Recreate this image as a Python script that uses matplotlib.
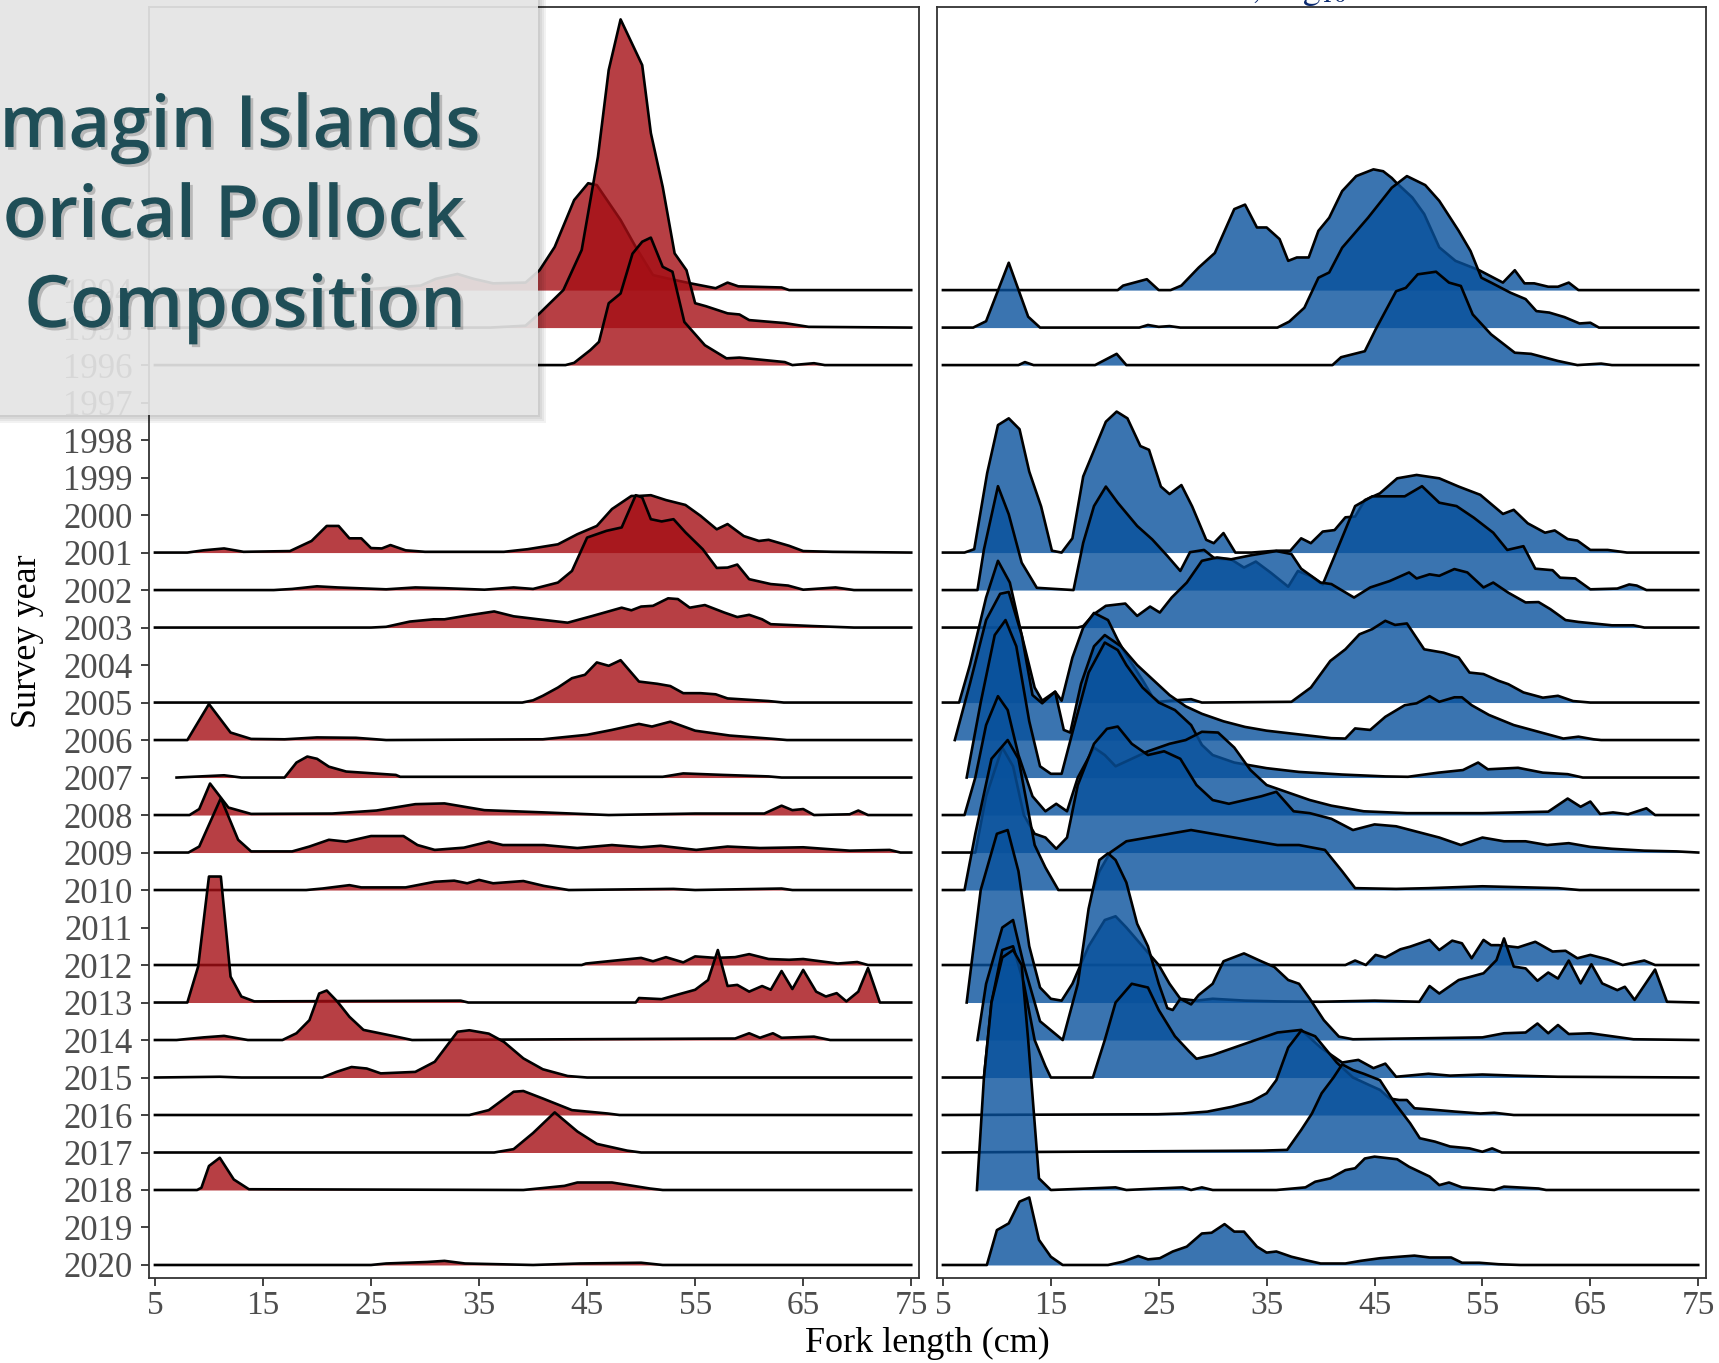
import matplotlib
matplotlib.use("Agg")
import matplotlib.pyplot as plt
import matplotlib.patheffects as pe
from matplotlib.patches import Rectangle
import numpy as np

plt.rcParams["mathtext.fontset"] = "stix"

# survey years on the y axis (top to bottom)
years = list(range(1994, 2021))
x_ticks = [5, 15, 25, 35, 45, 55, 65, 75]

# (fork length cm, ridge height in row units)
red_curves = {
    1994: [(5, 0), (20, 0), (25, 0.03), (29.6, 0.12), (31, 0.3), (33, 0.43), (34.5, 0.3), (36.3, 0.18),
           (39.3, 0.2), (40.6, 0.53), (42, 1.15), (43.8, 2.4), (45.1, 2.85), (45.9, 2.8), (48.1, 1.87),
           (49.5, 1.15), (51.1, 0.4), (52.3, 0.32), (54.4, 0.19), (56.9, 0.05), (58, 0.2), (59, 0.1),
           (63, 0.07), (63.7, 0), (75, 0)],
    1995: [(5, 0), (36, 0), (39.3, 0.05), (40.6, 0.38), (42.8, 1.0), (44.5, 2.07), (46, 4.55), (47, 6.87),
           (48.1, 8.22), (50.1, 7.0), (50.9, 5.19), (52, 3.75), (53.1, 1.98), (54.2, 1.53), (55, 0.65),
           (56, 0.57), (58, 0.38), (59.1, 0.35), (60, 0.2), (63.3, 0.12), (65.5, 0.02), (75, 0)],
    1996: [(5, 0), (43, 0), (43.8, 0.06), (45.3, 0.4), (46.1, 0.62), (47, 1.65), (48.1, 1.91), (49.2, 2.97),
           (50.1, 3.29), (50.9, 3.4), (52, 2.62), (52.9, 2.49), (54, 1.15), (55.9, 0.53), (57.9, 0.18),
           (59.1, 0.2), (63.3, 0.08), (64, 0), (66, 0.05), (67, 0), (75, 0)],
    2001: [(5, 0), (8, 0), (9.5, 0.06), (11.4, 0.11), (13.2, 0.02), (17.5, 0.04), (19.5, 0.31), (20.9, 0.71),
           (22, 0.71), (23, 0.38), (24.1, 0.38), (25, 0.12), (26, 0.11), (26.8, 0.2), (28.2, 0.06), (30, 0.02),
           (37.3, 0.02), (39.5, 0.09), (42.3, 0.22), (44.1, 0.49), (45.9, 0.71), (47.3, 1.16), (49.1, 1.51),
           (49.8, 1.51), (50.9, 1.53), (52.3, 1.4), (54.1, 1.27), (55.5, 0.98), (57, 0.62), (58, 0.76),
           (59.5, 0.44), (60.9, 0.31), (61.8, 0.34), (63.7, 0.18), (65, 0.04), (67.7, 0.02), (75, 0)],
    2002: [(5, 0), (16, 0), (17.7, 0.03), (20, 0.1), (21.9, 0.07), (26.4, 0.02), (29.1, 0.07), (31.8, 0.05),
           (35.5, 0.01), (38.2, 0.07), (40, 0.03), (42.3, 0.2), (43.6, 0.51), (45, 1.4), (46.8, 1.58),
           (48.2, 1.67), (49.5, 2.53), (50.1, 2.47), (50.9, 1.89), (51.9, 1.83), (53, 1.89), (54.1, 1.54),
           (55.7, 1.09), (57, 0.59), (58, 0.6), (58.9, 0.68), (60, 0.29), (62, 0.16), (63.6, 0.12), (65, 0.01),
           (68, 0.07), (69.7, 0), (75, 0)],
    2003: [(5, 0), (25, 0), (26.4, 0.02), (28.6, 0.16), (30.8, 0.22), (31.8, 0.22), (34.1, 0.33), (36.4, 0.43),
           (38.2, 0.3), (40.5, 0.22), (43.2, 0.13), (45.5, 0.31), (48.2, 0.53), (49.1, 0.46), (50, 0.56),
           (51.1, 0.58), (52.5, 0.78), (53.4, 0.76), (54.5, 0.53), (55.9, 0.6), (57.7, 0.4), (58.9, 0.28),
           (60, 0.34), (61.2, 0.22), (62, 0.09), (65.9, 0.04), (69.7, 0), (75, 0)],
    2005: [(5, 0), (39, 0), (40, 0.06), (40.9, 0.18), (42.3, 0.4), (43.6, 0.65), (44.8, 0.74), (45.9, 1.07),
           (47, 0.98), (48.1, 1.13), (49.8, 0.56), (51.5, 0.5), (52.7, 0.44), (53.9, 0.25), (55.5, 0.25),
           (56.9, 0.22), (58, 0.11), (61.8, 0.04), (63.2, 0), (75, 0)],
    2006: [(5, 0), (8, 0), (10, 0.96), (12, 0.2), (13.9, 0.03), (17, 0.02), (20, 0.07), (23.6, 0.06),
           (26.4, 0), (40.9, 0.02), (45, 0.14), (47.3, 0.27), (49.8, 0.43), (51, 0.36), (52.7, 0.49),
           (55, 0.25), (58.2, 0.12), (62.3, 0.03), (63.5, 0), (75, 0)],
    2007: [(7, 0), (11.4, 0.06), (13, 0), (17, 0), (18.1, 0.4), (19.1, 0.56), (20, 0.5), (21.1, 0.29),
           (22.7, 0.16), (27.3, 0.07), (27.7, 0.02), (52, 0.02), (53.9, 0.11), (57.6, 0.07), (61.8, 0.03),
           (63, 0), (75, 0)],
    2008: [(5, 0), (8.2, 0), (9.1, 0.16), (10.1, 0.84), (11.8, 0.2), (13.9, 0.03), (21.4, 0.04), (25.5, 0.12),
           (29.1, 0.29), (31.8, 0.31), (35.5, 0.13), (41, 0.07), (47, 0), (55, 0.04), (61.4, 0.04), (63, 0.25),
           (64, 0.13), (65, 0.16), (66, 0), (69.3, 0.02), (70.1, 0.12), (71, 0), (75, 0)],
    2009: [(5, 0), (8.1, 0), (9.1, 0.16), (11.1, 1.45), (12.7, 0.34), (13.9, 0.03), (17.7, 0.03), (19.3, 0.16),
           (21.1, 0.34), (22.7, 0.29), (25, 0.44), (28, 0.44), (29.3, 0.2), (30.9, 0.07), (33.6, 0.13),
           (35.9, 0.29), (37.2, 0.2), (41, 0.2), (44.1, 0.12), (47.3, 0.2), (50, 0.14), (51.8, 0.18),
           (55.1, 0.07), (58, 0.16), (61, 0.12), (65, 0.14), (69.3, 0.05), (73, 0.07), (74, 0), (75, 0)],
    2010: [(5, 0), (19, 0), (20.5, 0.04), (23, 0.13), (24.1, 0.07), (28.2, 0.07), (30.9, 0.22), (32.7, 0.25),
           (33.9, 0.18), (35, 0.27), (36.3, 0.18), (39.1, 0.24), (41, 0.11), (43.3, 0), (53, 0.03), (55, 0),
           (63, 0.04), (64, 0), (75, 0)],
    2012: [(5, 0), (44.5, 0), (44.9, 0.04), (50, 0.19), (51.1, 0.1), (52.3, 0.21), (53.9, 0.07), (55, 0.23),
           (56.9, 0.19), (58.7, 0.21), (60, 0.29), (61.8, 0.16), (63.7, 0.14), (65, 0.16), (68.2, 0.04),
           (70, 0.08), (71, 0), (75, 0)],
    2013: [(5, 0), (8, 0), (9, 0.96), (10, 3.36), (11.1, 3.36), (12, 0.69), (13, 0.16), (14.2, 0.03),
           (33.3, 0.05), (34, 0), (49.5, 0), (49.8, 0.12), (51.9, 0.09), (53.5, 0.22), (55, 0.34), (56.2, 0.6),
           (57.1, 1.4), (58, 0.44), (58.9, 0.47), (60, 0.29), (61.2, 0.44), (62, 0.34), (63, 0.84), (64, 0.36),
           (65, 0.87), (66.2, 0.29), (67.1, 0.16), (68.1, 0.25), (69, 0.03), (70.1, 0.29), (71, 0.92),
           (72.1, 0), (75, 0)],
    2014: [(5, 0), (7, 0), (9.5, 0.07), (11.4, 0.11), (13.6, 0), (16.8, 0), (18.1, 0.18), (19.3, 0.53),
           (20.2, 1.24), (20.9, 1.32), (21.9, 1.02), (23, 0.62), (24.3, 0.27), (27, 0.11), (28.8, 0),
           (58.7, 0.04), (60, 0.18), (61, 0.06), (62.2, 0.18), (63, 0.06), (66, 0.09), (67.5, 0), (75, 0)],
    2015: [(5, 0), (11, 0.02), (13, 0), (20.5, 0), (21.8, 0.15), (23.2, 0.28), (24.6, 0.24), (25.9, 0.11),
           (29.1, 0.15), (30.9, 0.42), (33, 1.22), (34.1, 1.26), (35.9, 1.17), (37.3, 0.95), (39.1, 0.51),
           (40.9, 0.22), (43.2, 0.04), (45, 0), (75, 0)],
    2016: [(5, 0), (34.1, 0), (35.9, 0.13), (38.2, 0.62), (39.1, 0.64), (40.9, 0.44), (43.6, 0.13),
           (46.9, 0.04), (48, 0), (75, 0)],
    2017: [(5, 0), (36.4, 0), (38.2, 0.09), (40, 0.52), (42, 1.07), (44.1, 0.56), (45.9, 0.23), (48.7, 0.05),
           (50, 0), (75, 0)],
    2018: [(5, 0), (8.9, 0), (9.3, 0.06), (10, 0.64), (11, 0.86), (12.3, 0.28), (13.7, 0.02), (39.1, 0),
           (42.9, 0.11), (44.1, 0.2), (47.3, 0.2), (50.8, 0.04), (52, 0), (75, 0)],
    2020: [(5, 0), (25, 0), (26.4, 0.04), (30.2, 0.08), (31.8, 0.11), (33.7, 0.04), (40, 0), (44.3, 0.04),
           (50, 0.06), (52, 0), (75, 0)],
}

blue_curves = {
    1994: [(5, 0), (21.2, 0), (21.7, 0.12), (23.9, 0.29), (25, 0), (26.1, 0), (27.1, 0.12), (28.7, 0.6),
           (30.2, 0.99), (32, 2.16), (33, 2.28), (34.1, 1.67), (35, 1.67), (36.2, 1.36), (37, 0.78), (37.8, 0.87),
           (38.9, 0.87), (39.8, 1.58), (40.8, 1.93), (42, 2.64), (43.3, 3.04), (44.9, 3.22), (45.8, 3.17),
           (46.6, 2.99), (47, 2.87), (48.5, 2.47), (49.6, 2.03), (51, 1.14), (52.5, 0.78), (54.7, 0.53),
           (56.9, 0.2), (58, 0.53), (58.9, 0.18), (59.8, 0.18), (61.1, 0.09), (62, 0.09), (63, 0.2), (63.9, 0),
           (75, 0)],
    1995: [(5, 0), (7.8, 0), (9, 0.17), (11.1, 1.73), (12.9, 0.29), (14, 0), (23.2, 0), (24, 0.07), (25, 0.02),
           (26, 0.04), (27, 0), (36, 0), (37.1, 0.16), (38.5, 0.53), (39.8, 1.33), (40.8, 1.47), (42, 2.13),
           (44.4, 2.93), (46.6, 3.73), (48, 4.04), (49.7, 3.8), (51, 3.38), (52.8, 2.58), (53.9, 2.04),
           (54.9, 1.33), (55.8, 1.2), (57.6, 0.93), (59, 0.76), (60, 0.44), (61.2, 0.4), (62.6, 0.28), (64, 0.11),
           (65, 0.13), (65.8, 0), (75, 0)],
    1996: [(5, 0), (12, 0), (12.6, 0.08), (13.4, 0), (19.1, 0), (21.1, 0.3), (22, 0), (41.1, 0), (41.9, 0.21),
           (44.1, 0.37), (45.1, 0.95), (47, 1.97), (47.9, 2.06), (49, 2.42), (50.7, 2.49), (51.9, 2.2), (53, 2.11),
           (54.1, 1.35), (55.8, 0.82), (58, 0.33), (59.5, 0.3), (62, 0.11), (63.8, 0), (66, 0.04), (67, 0),
           (75, 0)],
    2001: [(5, 0), (7, 0), (7.9, 0.09), (9.1, 2.12), (10.1, 3.4), (11.1, 3.58), (12.1, 3.29), (13, 2.16),
           (14.1, 1.23), (15.1, 0.05), (16, 0), (17, 0.38), (18, 2.03), (20.1, 3.49), (21.1, 3.76), (22.1, 3.58),
           (23.3, 2.84), (24.1, 2.74), (25.2, 1.76), (26, 1.56), (27.1, 1.8), (28.1, 1.23), (29.4, 0.34),
           (30.1, 0.25), (31, 0.52), (32.1, 0), (33.6, 0), (35.9, 0.05), (37.2, 0.05), (38.2, 0.38), (39.1, 0.25),
           (40.2, 0.56), (41.3, 0.6), (42.3, 0.94), (43.2, 0.96), (44.1, 1.4), (45.5, 1.58), (47.1, 1.98),
           (48.9, 2.07), (51, 1.98), (52.8, 1.76), (54.8, 1.54), (56.9, 1.03), (57.9, 1.14), (59.2, 0.78),
           (60.8, 0.53), (61.7, 0.59), (62.9, 0.36), (63.8, 0.32), (65, 0.07), (66.6, 0.07), (68.4, 0), (75, 0)],
    2002: [(5, 0), (8.2, 0), (8.8, 1.08), (10.1, 2.77), (11.1, 2.02), (12.3, 0.73), (13.7, 0.06), (17.1, 0),
           (18, 1.26), (19, 2.24), (20.1, 2.76), (21.2, 2.33), (23, 1.71), (24.4, 1.35), (25.8, 0.91), (27, 0.51),
           (27.9, 1.01), (29.2, 1.07), (30.2, 0.84), (31.7, 0.82), (32.9, 0.6), (34, 0.76), (35.4, 0.46),
           (37, 0.09), (37.9, 0.51), (39.1, 0.37), (40.2, 0.15), (41.3, 0.91), (43.2, 2.24), (44.8, 2.5),
           (47.8, 2.5), (49.4, 2.77), (51, 2.33), (52.6, 2.24), (54.2, 1.93), (56, 1.53), (57.3, 1.07),
           (58.8, 1.17), (59.9, 0.57), (61.5, 0.53), (62.2, 0.33), (63.6, 0.31), (65, 0.02), (67.5, 0.04),
           (68.6, 0.15), (69.3, 0.12), (70.2, 0), (75, 0)],
    2003: [(5, 0), (17.5, 0), (18, 0.04), (19, 0.36), (20.1, 0.58), (21.9, 0.64), (23, 0.31), (24.2, 0.56),
           (25.1, 0.4), (26.2, 0.8), (27.6, 1.2), (29, 1.78), (30.4, 1.87), (31.7, 1.82), (33.6, 1.93),
           (35.9, 2.04), (37.3, 1.96), (38.2, 1.57), (40, 1.2), (41, 1.16), (43.1, 0.8), (44.6, 1.07),
           (46.4, 1.24), (48.2, 1.47), (48.9, 1.31), (50.1, 1.42), (51, 1.38), (52.4, 1.56), (53.6, 1.47),
           (55.1, 1.07), (56, 1.2), (57.4, 0.93), (59, 0.67), (60.2, 0.68), (61.3, 0.49), (62.7, 0.2),
           (63.9, 0.15), (67, 0.06), (69, 0.06), (70, 0), (75, 0)],
    2005: [(5, 0), (6.5, 0), (7.5, 1.0), (9, 2.8), (10.1, 3.78), (11.2, 3.2), (12.3, 1.8), (13.5, 0.4),
           (14.2, 0.05), (15.4, 0.29), (16, 0.05), (17, 1.2), (18, 2.0), (19, 2.39), (20.3, 2.2), (21.2, 1.67),
           (21.9, 1.31), (23.5, 0.6), (24.4, 0.16), (25, 0.02), (26.5, 0.06), (28, 0.09), (29, 0), (37.3, 0.02),
           (39.1, 0.4), (40.9, 1.11), (42.3, 1.42), (43.6, 1.82), (44.8, 1.96), (46, 2.18), (46.9, 2.07),
           (48, 2.11), (49.6, 1.42), (51.4, 1.33), (52.8, 1.2), (53.8, 0.8), (55.1, 0.76), (56.5, 0.58),
           (57.4, 0.49), (58.8, 0.27), (60.6, 0.13), (62, 0.18), (63.4, 0.04), (65, 0), (75, 0)],
    2006: [(6.1, 0), (7.5, 1.5), (9, 3.2), (10.3, 3.9), (11.1, 3.95), (12.3, 2.8), (13.3, 1.2), (14.2, 0.98),
           (15.4, 1.29), (16.2, 0.27), (16.8, 0.2), (17.8, 1.5), (19, 2.5), (20, 2.8), (21.5, 2.5), (23, 2.0),
           (24.5, 1.6), (26, 1.2), (27.5, 0.9), (29, 0.7), (31, 0.5), (33, 0.35), (35, 0.25), (38, 0.15),
           (41, 0.05), (42.3, 0.04), (43.2, 0.31), (44.6, 0.27), (46, 0.62), (47.8, 0.93), (48.9, 0.98),
           (50.1, 1.17), (51, 1.02), (52.4, 1.14), (53.1, 1.14), (54, 0.93), (55.6, 0.67), (57.9, 0.4),
           (60.2, 0.22), (62.5, 0.04), (63.9, 0.09), (65.3, 0.02), (66, 0), (75, 0)],
    2007: [(7.2, 0), (8.5, 2.0), (9.8, 3.8), (10.8, 4.2), (11.8, 3.5), (13, 1.5), (14, 0.3), (15, 0.1),
           (16, 0.1), (17, 1.2), (18.5, 2.8), (20, 3.6), (21.2, 3.4), (22, 3.0), (23.5, 2.4), (25, 2.0),
           (26.5, 1.8), (28, 1.4), (29, 0.87), (30, 0.6), (32, 0.4), (35, 0.25), (38, 0.15), (42, 0.08),
           (46, 0.03), (48.1, 0.02), (50.9, 0.13), (53.2, 0.2), (54.6, 0.4), (55.5, 0.22), (58.3, 0.26),
           (60.6, 0.13), (62.9, 0.09), (64.3, 0), (75, 0)],
    2008: [(5, 0), (7, 0), (8, 1.0), (9, 2.4), (10.1, 3.17), (11, 2.8), (12, 1.6), (13.3, 0.5), (14.5, 0.1),
           (15.5, 0.3), (16.5, 0.1), (17.5, 1.0), (19, 1.8), (20, 1.6), (21, 1.3), (22.5, 1.5), (24, 1.7),
           (26, 1.9), (27.5, 2.0), (29, 2.22), (30.5, 2.2), (32, 1.8), (33.5, 1.2), (35, 0.8), (37, 0.6),
           (39, 0.4), (41, 0.25), (44, 0.1), (48, 0.05), (55, 0.05), (61.1, 0.09), (62.9, 0.44), (64.1, 0.22),
           (65, 0.36), (65.9, 0.03), (67.1, 0.07), (68.5, 0.02), (70.2, 0.18), (71, 0), (75, 0)],
    2009: [(5, 0), (8, 0), (9, 1.5), (10.5, 2.8), (11.5, 2.3), (12.5, 1.0), (13.5, 0.5), (14.5, 0.4),
           (15.5, 0.1), (16.5, 0.4), (17.5, 1.8), (19, 2.9), (20.2, 3.3), (21.2, 3.36), (22.5, 2.9), (24, 2.6),
           (25.5, 2.7), (27, 2.5), (28.5, 1.8), (30, 1.4), (31.5, 1.3), (33, 1.4), (34.5, 1.5), (35.9, 1.62),
           (37.5, 1.1), (39, 1.05), (41, 0.9), (43, 0.6), (45, 0.75), (47, 0.7), (49, 0.55), (51, 0.4),
           (53, 0.2), (55, 0.4), (57, 0.3), (59, 0.3), (61, 0.2), (63, 0.25), (65, 0.15), (67, 0.1), (70, 0.05),
           (73, 0.03), (75, 0)],
    2010: [(5, 0), (7, 0), (8, 1.5), (9.5, 3.5), (11, 4.0), (12, 3.5), (13.5, 1.2), (14.5, 0.6), (15.7, 0),
           (18.9, 0), (19.5, 0.5), (20.5, 1.0), (22, 1.3), (24, 1.4), (26, 1.5), (28, 1.6), (30, 1.5), (32, 1.4),
           (34, 1.3), (36, 1.2), (38, 1.2), (40.4, 1.07), (42, 0.5), (43.2, 0.05), (47, 0.03), (50, 0.05),
           (55, 0.1), (62, 0.05), (64, 0), (75, 0)],
    2012: [(5, 0), (42.3, 0), (43.2, 0.12), (44.2, 0), (45.1, 0.27), (46, 0.2), (47.4, 0.42), (48.3, 0.49),
           (50.1, 0.67), (51, 0.4), (52.2, 0.65), (53.1, 0.58), (54, 0.18), (55.1, 0.67), (55.8, 0.53),
           (56.5, 0.53), (58.3, 0.47), (59.9, 0.62), (61.5, 0.36), (62.7, 0.38), (63.8, 0.18), (65, 0.27),
           (66.6, 0.15), (68, 0), (70, 0.12), (71, 0), (75, 0)],
    2013: [(7.2, 0), (8.5, 3.0), (10, 4.5), (11, 4.6), (12, 3.5), (13, 1.5), (14, 0.4), (15, 0.1), (16, 0.05),
           (17, 0.5), (18.5, 1.5), (20, 2.2), (21, 2.3), (22, 2.0), (23.5, 1.5), (25, 1.0), (26, 0.5), (27, 0.1),
           (28.5, 0.05), (30, 0.1), (33, 0.05), (36, 0.03), (40, 0.02), (45, 0.05), (49.15, 0.02), (50.1, 0.44),
           (51, 0.24), (52.8, 0.6), (55.1, 0.78), (56.3, 1.13), (57, 1.71), (57.9, 0.96), (59, 0.91),
           (60.1, 0.58), (61.1, 0.8), (62, 0.64), (63, 1.12), (64.1, 0.51), (65.1, 1.02), (66.1, 0.51),
           (67.5, 0.33), (68.2, 0.42), (69.1, 0.07), (71, 0.88), (72.1, 0.02), (75, 0)],
    2014: [(8.2, 0), (9, 1.5), (10.5, 3.0), (11.5, 3.2), (12.5, 2.0), (14, 0.5), (16.1, 0), (17.5, 1.5),
           (18.5, 3.5), (19.5, 4.8), (20.3, 4.98), (21, 4.8), (22, 4.2), (23, 3.1), (24, 2.5), (25, 1.5),
           (25.8, 0.85), (26.3, 0.8), (27, 1.1), (28, 0.95), (28.7, 1.2), (30, 1.5), (31, 2.1), (32.9, 2.31),
           (34.5, 2.1), (35.7, 1.95), (37, 1.6), (38, 1.5), (39, 1.1), (40.3, 0.53), (41.7, 0.09), (43, 0.02),
           (55, 0.07), (57, 0.18), (59, 0.2), (60.1, 0.44), (61.1, 0.18), (62, 0.4), (63, 0.16), (65, 0.18),
           (67, 0.1), (69, 0.02), (75, 0)],
    2015: [(5, 0), (8.8, 0), (9.5, 2.0), (10.5, 3.4), (11.5, 3.5), (12.5, 2.5), (13.5, 1.0), (14.5, 0.3),
           (15, 0), (18.9, 0), (20, 1.0), (21, 2.0), (22.5, 2.5), (24, 2.4), (25, 1.8), (26.5, 1.1), (27.8, 0.7),
           (28.5, 0.5), (30, 0.6), (32, 0.8), (34, 1.0), (36, 1.2), (38.2, 1.27), (40, 0.8), (42, 0.4),
           (43.5, 0.47), (44.9, 0.25), (46, 0.37), (47, 0.02), (50, 0.1), (52, 0.05), (55, 0.08), (58, 0.05),
           (62, 0.02), (75, 0)],
    2016: [(5, 0), (24.9, 0.02), (27.2, 0.04), (29.5, 0.09), (31.8, 0.22), (33.6, 0.36), (35, 0.58),
           (35.9, 0.93), (37, 1.8), (38.2, 2.25), (39.5, 2.1), (41.5, 1.4), (43, 1.0), (44.5, 0.8), (45.5, 0.67),
           (46.4, 0.44), (47.3, 0.4), (48, 0.4), (48.7, 0.18), (50.1, 0.15), (52.5, 0.09), (54.8, 0.04),
           (56.1, 0.06), (57.9, 0), (75, 0)],
    2017: [(5, 0), (34.6, 0.05), (36.9, 0.07), (38.2, 0.6), (39.2, 1.04), (40.1, 1.58), (41.2, 2.0),
           (42, 2.35), (43, 2.2), (44, 2.1), (45.5, 1.93), (46.9, 1.31), (48.3, 0.78), (49.2, 0.38),
           (50.6, 0.29), (52, 0.16), (53.8, 0.11), (55, 0.02), (55.9, 0.11), (56.8, 0), (75, 0)],
    2018: [(8.15, 0), (8.8, 3.0), (9.5, 5.0), (10.5, 6.2), (11.5, 6.4), (12.3, 6.0), (12.9, 4.0), (13.9, 0.31),
           (15, 0), (21, 0.07), (22, 0), (24.9, 0.04), (27.2, 0.07), (28, 0), (29, 0.07), (30, 0), (35.9, 0),
           (38.6, 0.07), (39.5, 0.22), (40.9, 0.31), (42.3, 0.53), (43.2, 0.58), (44.1, 0.84), (45, 0.89),
           (47.1, 0.82), (48.2, 0.62), (50.1, 0.36), (51, 0.13), (51.9, 0.2), (53.1, 0.07), (56.1, 0),
           (57, 0.09), (60.2, 0.04), (60.9, 0), (75, 0)],
    2020: [(5, 0), (9.07, 0), (10, 0.93), (11.1, 1.11), (12.1, 1.69), (13, 1.8), (13.9, 0.67), (15, 0.22),
           (16.1, 0), (20.3, 0), (21.7, 0.09), (23.1, 0.24), (24, 0.15), (25.1, 0.18), (26.3, 0.36), (27.6, 0.49),
           (29, 0.84), (29.9, 0.86), (31.1, 1.09), (32, 0.89), (32.9, 0.89), (34.1, 0.49), (35, 0.33),
           (35.9, 0.36), (37.3, 0.22), (38.6, 0.13), (40, 0.04), (42.3, 0.04), (43.7, 0.11), (45.5, 0.18),
           (47.3, 0.22), (48.7, 0.25), (50.1, 0.2), (52.1, 0.2), (53.1, 0.06), (54.7, 0.06), (56.5, 0.02),
           (58.5, 0), (75, 0)],
}

RED = "#a50f15"
BLUE = "#08519c"
AXIS_GREY = "#333333"
TICK_GREY = "#4d4d4d"
SERIF = ["Liberation Serif", "DejaVu Serif"]

W, H = 1719, 1363
fig = plt.figure(figsize=(W / 100, H / 100), dpi=100)


def add_axes_px(x0, x1, y0, y1):
    return fig.add_axes([x0 / W, 1 - y1 / H, (x1 - x0) / W, (y1 - y0) / H])


ax_l = add_axes_px(149, 919, 7, 1278)
ax_r = add_axes_px(937, 1706, 7, 1278)

for ax, curves, color in [(ax_l, red_curves, RED), (ax_r, blue_curves, BLUE)]:
    # top rows first, so lower ridges sit in front
    for i, yr in enumerate(years):
        if yr not in curves:
            continue
        x, h = np.array(curves[yr], dtype=float).T
        base = 2020 - yr
        ax.fill_between(x, base, base + h, color=color, alpha=0.8, lw=0, zorder=2 * i + 1)
        ax.plot(x, base + h, color="black", lw=1.9, zorder=2 * i + 2)

    ax.set_xlim(4.45, 75.72)
    ax.set_ylim(-0.347, 33.55)
    ax.set_xticks(x_ticks)
    ax.set_xticklabels([str(t) for t in x_ticks], fontfamily=SERIF, fontsize=24, color=TICK_GREY)
    for sp in ax.spines.values():
        sp.set_color(AXIS_GREY)
        sp.set_linewidth(1.3)
    ax.tick_params(axis="x", length=5.8, width=1.3, color=AXIS_GREY, pad=3)

ax_l.set_yticks([2020 - y for y in years])
ax_l.set_yticklabels([str(y) for y in years], fontfamily=SERIF, fontsize=25, color=TICK_GREY)
ax_l.tick_params(axis="y", length=5.8, width=1.3, color=AXIS_GREY, pad=6)
ax_r.set_yticks([])

fig.text(927 / W, 1 - 1343 / H, "Fork length (cm)", ha="center", va="center",
         fontfamily=SERIF, fontsize=26, color="black")
fig.text(27 / W, 1 - 641 / H, "Survey year", ha="center", va="center", rotation=90,
         fontfamily=SERIF, fontsize=26, color="black")

# clipped panel title: only its descenders peek in at the top edge
fig.text(1347 / W, 1 + 2 / H, r"$\mathrm{,\ log}_{10}$", ha="right", va="baseline",
         fontsize=26, color="#0b2a70")

# slide-style title box laid over the top-left corner
for k, a in enumerate([0.05, 0.05, 0.05, 0.05]):
    off = (k + 1) * 2
    fig.patches.append(Rectangle((0, 1 - (415 + off) / H), (538 + off) / W, (415 + off) / H,
                                 transform=fig.transFigure, facecolor="black", alpha=a,
                                 edgecolor="none", zorder=50))
fig.patches.append(Rectangle((0, 1 - 415 / H), 538 / W, 415 / H, transform=fig.transFigure,
                             facecolor="#e9e9e9", alpha=0.9, edgecolor="none", zorder=51))

title_lines = [("magin Islands", 480, 147), ("orical Pollock", 464, 237), ("Composition", 466, 327)]
for txt, xr, yb in title_lines:
    fig.text(xr / W, 1 - yb / H, txt, ha="right", va="baseline", fontfamily="Open Sans",
             fontweight="semibold", fontsize=52, color="#1f4e57", zorder=60,
             path_effects=[pe.withSimplePatchShadow(offset=(2, -2), shadow_rgbFace="#000000", alpha=0.2)])

fig.savefig("out.png", dpi=100)
